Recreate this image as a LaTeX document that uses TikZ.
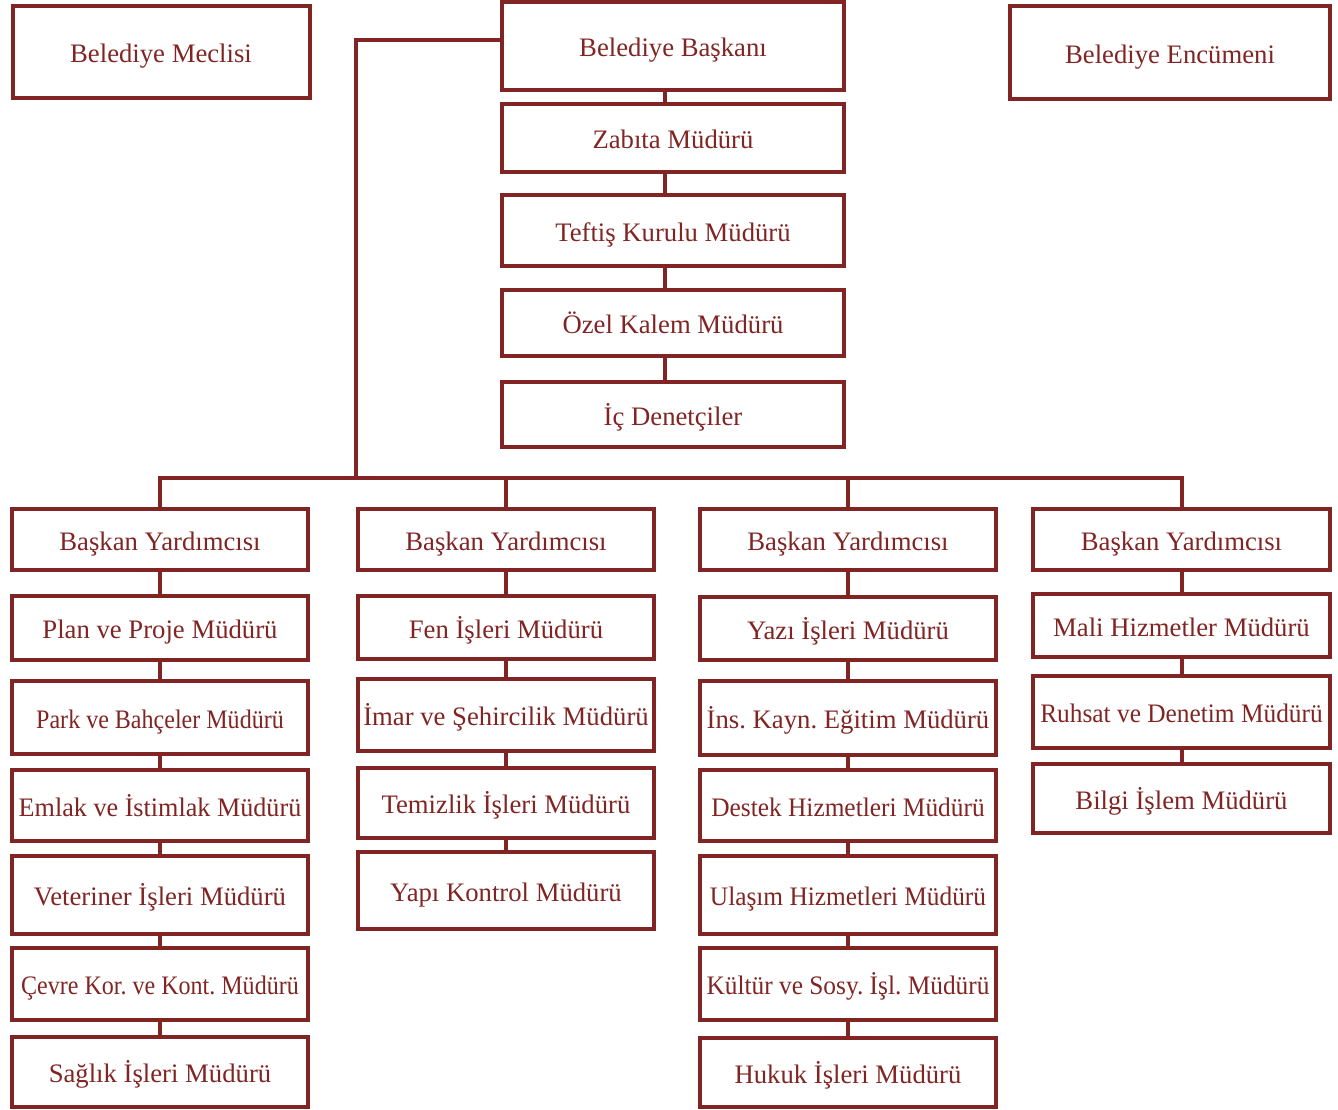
\documentclass[tikz,border=0pt]{standalone}
\usepackage{fontspec}
\setmainfont{Liberation Serif}
\newfontfamily\narrowfont[FakeStretch=0.95]{Liberation Serif}
\newfontfamily\tightfont[FakeStretch=0.9]{Liberation Serif}
\newfontfamily\slimfont[FakeStretch=0.98]{Liberation Serif}
\definecolor{orgred}{RGB}{128,37,35}
\frenchspacing

\begin{document}
\begin{tikzpicture}[x=1pt, y=-1pt,
    box/.style={draw=orgred, line width=4pt, text=orgred, inner sep=0pt,
        text height=24pt, text depth=3pt, font=\fontsize{26.7}{32}\selectfont},
    link/.style={draw=orgred, line width=4pt}]
    \useasboundingbox (0,0) rectangle (1338,1109);

        \node[box, minimum width=297pt, minimum height=92pt] (meclis) at (161,52) {Belediye Meclisi};
        \node[box, minimum width=342pt, minimum height=88pt] (baskan) at (673,46) {Belediye Başkanı};
        \node[box, minimum width=320pt, minimum height=93pt] (encumen) at (1170,52.5) {Belediye Encümeni};

        \node[box, minimum width=342pt, minimum height=68pt] (zabita) at (673,138) {Zabıta Müdürü};
        \node[box, minimum width=342pt, minimum height=71pt] (teftis) at (673,230.5) {Teftiş Kurulu Müdürü};
        \node[box, minimum width=342pt, minimum height=66pt] (ozel) at (673,323) {Özel Kalem Müdürü};
        \node[box, minimum width=342pt, minimum height=65pt] (ic) at (673,414.5) {İç Denetçiler};

            \draw[link]([xshift=-8pt]baskan.south) to ([xshift=-8pt]zabita.north);
            \draw[link]([xshift=-8pt]zabita.south) to ([xshift=-8pt]teftis.north);
            \draw[link]([xshift=-8pt]teftis.south) to ([xshift=-8pt]ozel.north);
            \draw[link]([xshift=-8pt]ozel.south) to ([xshift=-8pt]ic.north);

        \node[box, minimum width=296pt, minimum height=61pt] (by1) at (160,539.5) {Başkan Yardımcısı};
        \node[box, minimum width=296pt, minimum height=64pt] (plan) at (160,628) {Plan ve Proje Müdürü};
        \node[box, minimum width=296pt, minimum height=73pt] (park) at (160,717.5) {\tightfont Park ve Bahçeler Müdürü};
        \node[box, minimum width=296pt, minimum height=71pt] (emlak) at (160,805.5) {\slimfont Emlak ve İstimlak Müdürü};
        \node[box, minimum width=296pt, minimum height=78pt] (veteriner) at (160,895) {Veteriner İşleri Müdürü};
        \node[box, minimum width=296pt, minimum height=72pt] (cevre) at (160,984) {\tightfont Çevre Kor. ve Kont. Müdürü};
        \node[box, minimum width=296pt, minimum height=70pt] (saglik) at (160,1072) {Sağlık İşleri Müdürü};

        \node[box, minimum width=296pt, minimum height=61pt] (by2) at (506,539.5) {Başkan Yardımcısı};
        \node[box, minimum width=296pt, minimum height=63pt] (fen) at (506,627.5) {Fen İşleri Müdürü};
        \node[box, minimum width=296pt, minimum height=72pt] (imar) at (506,715) {İmar ve Şehircilik Müdürü};
        \node[box, minimum width=296pt, minimum height=70pt] (temizlik) at (506,803) {Temizlik İşleri Müdürü};
        \node[box, minimum width=296pt, minimum height=77pt] (yapi) at (506,890.5) {Yapı Kontrol Müdürü};

        \node[box, minimum width=296pt, minimum height=61pt] (by3) at (848,539.5) {Başkan Yardımcısı};
        \node[box, minimum width=296pt, minimum height=63pt] (yazi) at (848,628.5) {Yazı İşleri Müdürü};
        \node[box, minimum width=296pt, minimum height=74pt] (ins) at (848,718) {İns. Kayn. Eğitim Müdürü};
        \node[box, minimum width=296pt, minimum height=71pt] (destek) at (848,805.5) {\narrowfont Destek Hizmetleri Müdürü};
        \node[box, minimum width=296pt, minimum height=78pt] (ulasim) at (848,895) {\narrowfont Ulaşım Hizmetleri Müdürü};
        \node[box, minimum width=296pt, minimum height=72pt] (kultur) at (848,984) {\narrowfont Kültür ve Sosy. İşl. Müdürü};
        \node[box, minimum width=296pt, minimum height=69pt] (hukuk) at (848,1072.5) {Hukuk İşleri Müdürü};

        \node[box, minimum width=297pt, minimum height=61pt] (by4) at (1181.5,539.5) {Başkan Yardımcısı};
        \node[box, minimum width=297pt, minimum height=63pt] (mali) at (1181.5,625.5) {Mali Hizmetler Müdürü};
        \node[box, minimum width=297pt, minimum height=72pt] (ruhsat) at (1181.5,712) {\narrowfont Ruhsat ve Denetim Müdürü};
        \node[box, minimum width=297pt, minimum height=69pt] (bilgi) at (1181.5,798.5) {Bilgi İşlem Müdürü};

        \coordinate (bus) at (356,478);

            \draw[link]([yshift=6pt]baskan.west) -| (bus);
            \draw[link](by1) |- (bus) -| (by4);
            \draw[link](by2) to (by2 |- bus);
            \draw[link](by3) to (by3 |- bus);

            \draw[link](by1) to (plan);
            \draw[link](plan) to (park);
            \draw[link](park) to (emlak);
            \draw[link](emlak) to (veteriner);
            \draw[link](veteriner) to (cevre);
            \draw[link](cevre) to (saglik);

            \draw[link](by2) to (fen);
            \draw[link](fen) to (imar);
            \draw[link](imar) to (temizlik);
            \draw[link](temizlik) to (yapi);

            \draw[link](by3) to (yazi);
            \draw[link](yazi) to (ins);
            \draw[link](ins) to (destek);
            \draw[link](destek) to (ulasim);
            \draw[link](ulasim) to (kultur);
            \draw[link](kultur) to (hukuk);

            \draw[link](by4) to (mali);
            \draw[link](mali) to (ruhsat);
            \draw[link](ruhsat) to (bilgi);
\end{tikzpicture}
\end{document}
